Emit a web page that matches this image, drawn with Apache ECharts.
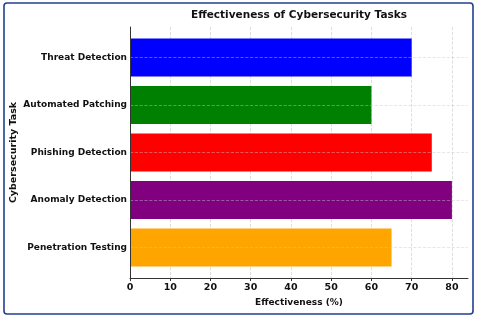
<!DOCTYPE html>
<html>
<head>
<meta charset="utf-8">
<script src="https://cdn.jsdelivr.net/npm/echarts@6/dist/echarts.min.js"></script>
<style>
  html, body { margin: 0; padding: 0; background: #fff; }
  #chart { width: 480px; height: 320px; }
</style>
</head>
<body>
<div id="chart"></div>
<script>
// Data
var tasks = ['Threat Detection', 'Automated Patching', 'Phishing Detection', 'Anomaly Detection', 'Penetration Testing'];
var effectiveness = [70, 60, 75, 80, 65];
var barColors = ['#0000ff', '#008000', '#ff0000', '#800080', '#ffa500'];
var xTicks = [0, 10, 20, 30, 40, 50, 60, 70, 80];

var chart_element = document.getElementById('chart');

if (chart_element) {

    // Initialize chart
    var chart = echarts.init(chart_element, null, {renderer: 'canvas'});

    var font = 'DejaVu Sans';

    var barData = tasks.map(function (t, i) {
        return [effectiveness[i], i];
    });

    chart.setOption({
        animation: false,
        textStyle: {
            fontFamily: font
        },
        // Title
        title: {
            text: 'Effectiveness of Cybersecurity Tasks',
            left: 299,
            top: 10,
            textAlign: 'center',
            padding: 0,
            textStyle: {
                fontFamily: font,
                fontSize: 10.5,
                fontWeight: 'bold',
                color: '#111'
            }
        },
        // Frame around picture
        graphic: [{
            type: 'rect',
            shape: {x: 4, y: 3, width: 469, height: 311, r: 3},
            style: {fill: 'none', stroke: '#23408e', lineWidth: 1.6},
            z: 100
        }],
        grid: {
            left: 130,
            right: 12,
            top: 27,
            bottom: 42,
            outerBoundsMode: 'none',
            containLabel: false
        },
        xAxis: {
            type: 'value',
            min: 0,
            max: 84,
            interval: 10,
            name: 'Effectiveness (%)',
            nameLocation: 'middle',
            nameGap: 20,
            nameMoveOverlap: false,
            nameTextStyle: {
                fontFamily: font,
                fontSize: 9,
                fontWeight: 'bold',
                color: '#111'
            },
            axisLine: {show: true, onZero: false, lineStyle: {color: '#333', width: 1}},
            axisTick: {show: true, length: 3, lineStyle: {color: '#333'}},
            axisLabel: {
                showMaxLabel: false,
                margin: 5,
                fontFamily: font,
                fontSize: 9.5,
                fontWeight: 'bold',
                color: '#111',
                formatter: function (v) {
                    return xTicks.indexOf(v) >= 0 ? String(v) : '';
                }
            },
            splitLine: {
                show: true,
                showMinLine: false,
                showMaxLine: false,
                lineStyle: {color: '#d6d6d6', type: 'dashed', width: 0.8}
            }
        },
        yAxis: {
            type: 'value',
            inverse: true,
            min: -0.64,
            max: 4.64,
            z: 5,
            name: 'Cybersecurity Task',
            nameLocation: 'middle',
            nameGap: 111,
            nameRotate: 90,
            nameMoveOverlap: false,
            nameTextStyle: {
                fontFamily: font,
                fontSize: 9.5,
                fontWeight: 'bold',
                color: '#111'
            },
            axisLine: {show: true, onZero: false, lineStyle: {color: '#333', width: 1}},
            axisTick: {show: false},
            axisLabel: {
                margin: 3,
                showMinLabel: false,
                showMaxLabel: false,
                fontFamily: font,
                fontSize: 9,
                fontWeight: 'bold',
                color: '#111',
                formatter: function (v) {
                    return Number.isInteger(v) && tasks[v] ? tasks[v] : '';
                }
            },
            splitLine: {
                show: true,
                showMinLine: false,
                showMaxLine: false,
                lineStyle: {color: 'rgba(200,200,200,0.55)', type: 'dashed', width: 0.8}
            }
        },
        series: [{
            type: 'custom',
            name: 'Effectiveness',
            z: 2,
            encode: {x: 0, y: 1},
            data: barData,
            renderItem: function (params, api) {
                var val = api.value(0);
                var idx = api.value(1);
                var start = api.coord([0, idx]);
                var end = api.coord([val, idx]);
                var h = api.size([0, 0.8])[1];
                return {
                    type: 'rect',
                    shape: {x: start[0], y: start[1] - h / 2, width: end[0] - start[0], height: h},
                    style: {fill: barColors[idx]}
                };
            }
        }]
    });
}
</script>
</body>
</html>
